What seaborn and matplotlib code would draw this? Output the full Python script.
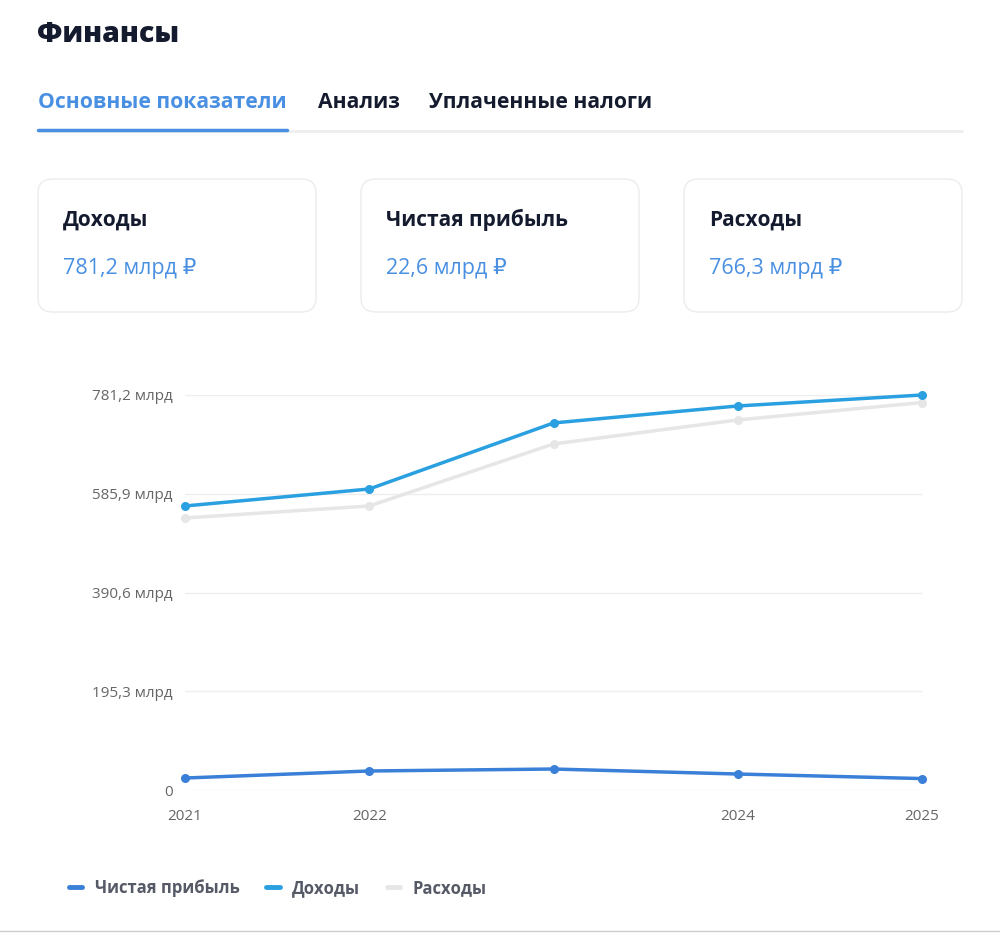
import numpy as np
import pandas as pd
import seaborn as sns
import matplotlib.pyplot as plt
from matplotlib.patches import FancyBboxPatch
from matplotlib.lines import Line2D

# данные
years = ["2021", "2022", "2023", "2024", "2025"]
year_labels = ["2021", "2022", "", "2024", "2025"]
income = [561.7, 595.3, 725.9, 759.5, 781.2]
expenses = [538.0, 561.7, 684.4, 731.9, 766.3]
profit = [23.7, 37.6, 41.5, 31.6, 22.6]

y_ticks = [0, 195.3, 390.6, 585.9, 781.2]
y_tick_labels = ["0", "195,3 млрд", "390,6 млрд", "585,9 млрд", "781,2 млрд"]

cards = [("Доходы", "781,2 млрд ₽"), ("Чистая прибыль", "22,6 млрд ₽"), ("Расходы", "766,3 млрд ₽")]
tabs = ["Основные показатели", "Анализ", "Уплаченные налоги"]

c_profit = "#3a80d8"
c_income = "#2aa0e0"
c_exp = "#e6e6e6"
c_dark = "#151b2e"
c_blue = "#4a90e2"

sns.set_theme(style="white")
plt.rcParams["font.family"] = ["Open Sans", "DejaVu Sans"]

W, H = 1000, 933
fig = plt.figure(figsize=(10, 9.33), dpi=100)


def fx(px):
    return px / W


def fy(py):
    return 1 - py / H


# заголовок
fig.text(fx(37), fy(35), "Финансы", fontsize=20.5, fontweight="heavy", color=c_dark, va="center")

# вкладки
tab_x = [38, 318, 429]
for i, (t, x) in enumerate(zip(tabs, tab_x)):
    fig.text(fx(x), fy(102), t, fontsize=15.2, fontweight="bold",
             color=c_blue if i == 0 else c_dark, va="center")
fig.add_artist(Line2D([fx(38), fx(962)], [fy(131), fy(131)], color="#eeeeee", lw=2))
fig.add_artist(Line2D([fx(38), fx(287)], [fy(130), fy(130)], color=c_blue, lw=2.5))

# карточки
card_x = [38, 361, 684]
for (title, val), x in zip(cards, card_x):
    box = FancyBboxPatch((fx(x), fy(312)), fx(278), 133 / H,
                         boxstyle="round,pad=0,rounding_size=0.015",
                         transform=fig.transFigure, facecolor="white",
                         edgecolor="#ececec", lw=1)
    fig.add_artist(box)
    fig.text(fx(x + 25), fy(220), title, fontsize=15, fontweight="bold", color=c_dark, va="center")
    fig.text(fx(x + 25), fy(269), val, fontsize=15.5, color=c_blue, va="center")

# график
ax = fig.add_axes([fx(185), fy(790), fx(922 - 185), (790 - 395) / H])
df = pd.DataFrame({"x": np.arange(len(years)), "income": income,
                   "expenses": expenses, "profit": profit})

sns.lineplot(data=df, x="x", y="expenses", ax=ax, color=c_exp, lw=2.5,
             marker="o", markersize=6.5, markeredgewidth=0, clip_on=False)
sns.lineplot(data=df, x="x", y="profit", ax=ax, color=c_profit, lw=2.5,
             marker="o", markersize=6.5, markeredgewidth=0, clip_on=False)
sns.lineplot(data=df, x="x", y="income", ax=ax, color=c_income, lw=2.5,
             marker="o", markersize=6.5, markeredgewidth=0, clip_on=False)

ax.set_xlim(0, len(years) - 1)
ax.set_ylim(0, y_ticks[-1])
ax.set_yticks(y_ticks)
ax.set_yticklabels(y_tick_labels)
ax.set_xticks(np.arange(len(years)))
ax.set_xticklabels(year_labels)
ax.set_xlabel("")
ax.set_ylabel("")
ax.tick_params(axis="y", length=0, pad=9, labelsize=11, labelcolor="#666666")
ax.tick_params(axis="x", length=0, pad=14, labelsize=11, labelcolor="#666666")
for s in ax.spines.values():
    s.set_visible(False)
ax.grid(axis="y", color="#eeeeee", lw=1)
ax.set_axisbelow(True)

handles = [Line2D([], [], color=c_profit, lw=3.5, solid_capstyle="round"),
           Line2D([], [], color=c_income, lw=3.5, solid_capstyle="round"),
           Line2D([], [], color=c_exp, lw=3.5, solid_capstyle="round")]
leg = fig.legend(handles, ["Чистая прибыль", "Доходы", "Расходы"], loc="center left",
                 bbox_to_anchor=(fx(54), fy(888)), ncol=3, frameon=False,
                 handlelength=0.8, handletextpad=0.75, columnspacing=1.6,
                 prop={"weight": "bold", "size": 12})
for t in leg.get_texts():
    t.set_color("#555a66")

fig.add_artist(Line2D([0, 1], [fy(931), fy(931)], color="#cccccc", lw=1))

fig.savefig("out.png", dpi=100, facecolor="white")
